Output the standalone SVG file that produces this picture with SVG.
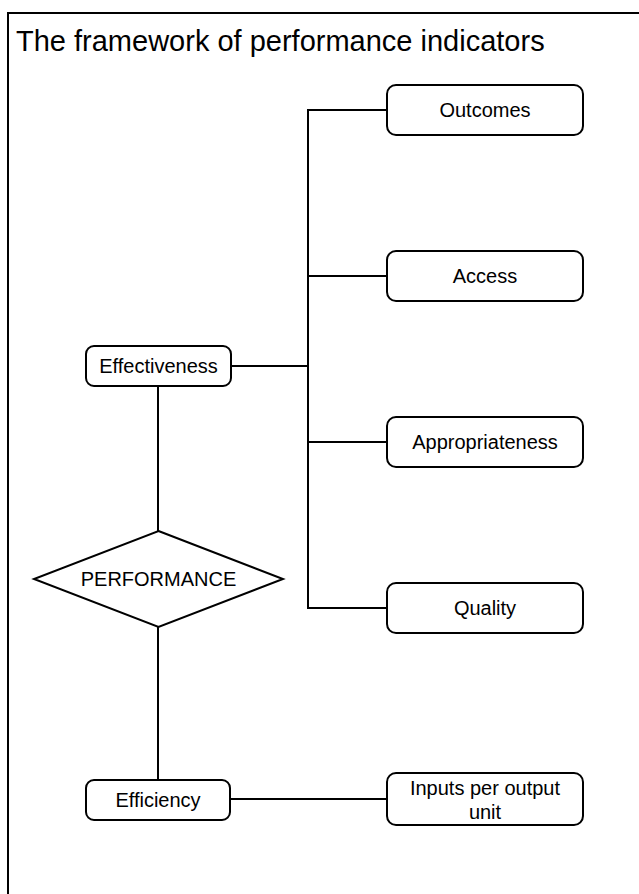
<svg xmlns="http://www.w3.org/2000/svg" width="639" height="894" viewBox="0 0 639 894">
<style>
text{font-family:"Liberation Sans",Arial,sans-serif;fill:#000}
.t{font-size:29px}
.n{font-size:20px;text-anchor:middle}
.box{fill:#fff;stroke:#000;stroke-width:2}
.ln{fill:none;stroke:#000;stroke-width:2}
</style>
<rect width="639" height="894" fill="#fff"/>
<path class="ln" d="M8,894 V13 H639"/>
<text class="t" x="16" y="51">The framework of performance indicators</text>
<g id="connectors">
<path class="ln" d="M387,110 H308 V608 H387"/>
<path class="ln" d="M308,276 H387"/>
<path class="ln" d="M308,442 H387"/>
<path class="ln" d="M231,366 H308"/>
<path class="ln" d="M158,386 V531"/>
<path class="ln" d="M158,627 V780"/>
<path class="ln" d="M230,799 H387"/>
</g>
<g id="outcomes"><rect class="box" x="387" y="85" width="196" height="50" rx="9"/><text class="n" x="485" y="117">Outcomes</text></g>
<g id="access"><rect class="box" x="387" y="251" width="196" height="50" rx="9"/><text class="n" x="485" y="283">Access</text></g>
<g id="appropriateness"><rect class="box" x="387" y="417" width="196" height="50" rx="9"/><text class="n" x="485" y="449">Appropriateness</text></g>
<g id="quality"><rect class="box" x="387" y="583" width="196" height="50" rx="9"/><text class="n" x="485" y="615">Quality</text></g>
<g id="effectiveness"><rect class="box" x="86" y="346" width="145" height="40" rx="8"/><text class="n" x="158.5" y="373">Effectiveness</text></g>
<g id="performance"><polygon class="box" points="158.5,531 283,579 158.5,627 34,579"/><text class="n" x="158.5" y="586">PERFORMANCE</text></g>
<g id="efficiency"><rect class="box" x="86" y="780" width="144" height="40" rx="8"/><text class="n" x="158" y="807">Efficiency</text></g>
<g id="inputs"><rect class="box" x="387" y="773" width="196" height="52" rx="9"/><text class="n" x="485" y="795">Inputs per output</text><text class="n" x="485" y="819">unit</text></g>
</svg>
